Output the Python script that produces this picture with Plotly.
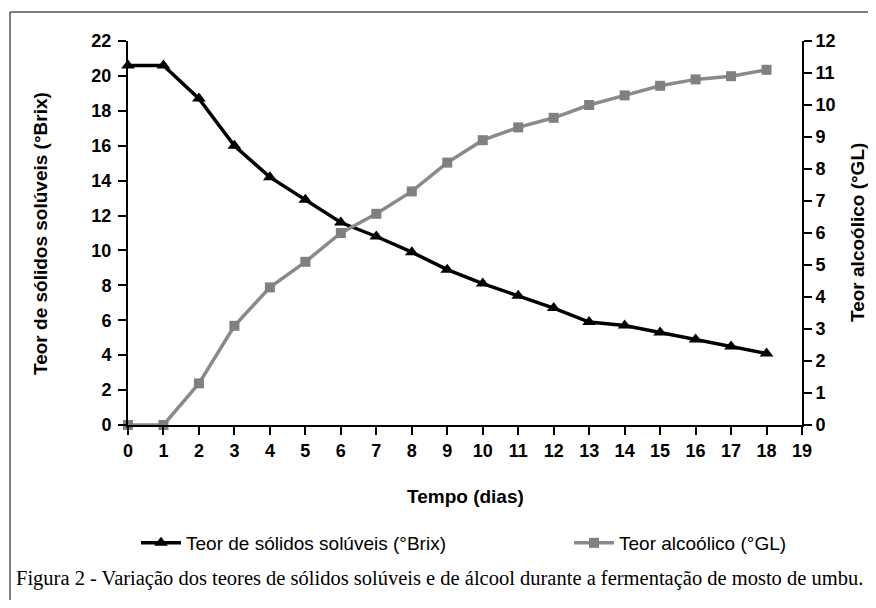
import plotly.graph_objects as go

# Data
dias = list(range(19))
brix = [20.6, 20.6, 18.7, 16.0, 14.2, 12.9, 11.6, 10.8, 9.9, 8.9, 8.1, 7.4, 6.7, 5.9, 5.7, 5.3, 4.9, 4.5, 4.1]
gl = [0.0, 0.0, 1.3, 3.1, 4.3, 5.1, 6.0, 6.6, 7.3, 8.2, 8.9, 9.3, 9.6, 10.0, 10.3, 10.6, 10.8, 10.9, 11.1]
x_ticks = list(range(20))
name_brix = "Teor de sólidos solúveis (°Brix)"
name_gl = "Teor alcoólico (°GL)"
title_x = "Tempo (dias)"
title_y1 = "Teor de sólidos solúveis (°Brix)"
title_y2 = "Teor alcoólico (°GL)"
caption = "Figura 2 - Variação dos teores de sólidos solúveis e de álcool durante a fermentação de mosto de umbu."

# The page places the figure 8px from the window's corner
OFF = 8
W, H = 876 - 2 * OFF, 608 - 2 * OFF
PL, PR, PT, PB = 128, 802, 41, 425  # plot area in window pixels
L, T = PL - OFF, PT - OFF
pw, ph = PR - PL, PB - PT
R, B = W - L - pw, H - T - ph


def px(x):
    return (x - PL) / pw


def py(y):
    return (PB - y) / ph


SANS = "Liberation Sans, Arial, sans-serif"
tickfont = dict(family=SANS, size=18, color="black", weight="bold")
titlefont = dict(family=SANS, size=19, color="black", weight="bold")

fig = go.Figure()
fig.add_trace(go.Scatter(
    x=dias, y=brix, mode="lines+markers", name=name_brix,
    line=dict(color="black", width=3.5),
    marker=dict(symbol="triangle-up", size=12, color="black"),
    cliponaxis=False, legend="legend",
))
fig.add_trace(go.Scatter(
    x=dias, y=gl, mode="lines+markers", name=name_gl, yaxis="y2",
    line=dict(color="#8a8a8a", width=3.5),
    marker=dict(symbol="square", size=10, color="#808080"),
    cliponaxis=False, legend="legend2",
))

axis_common = dict(
    showline=True, linecolor="black", linewidth=2,
    ticks="outside", ticklen=8, tickwidth=1.5, tickcolor="black",
    showgrid=False, zeroline=False, tickfont=tickfont,
)

legfont = dict(family=SANS, size=19, color="black")

fig.update_layout(
    width=W, height=H, autosize=False,
    margin=dict(l=L, r=R, t=T, b=B),
    paper_bgcolor="white", plot_bgcolor="white",
    xaxis=dict(range=[0, 19], tickmode="array", tickvals=x_ticks, **axis_common),
    yaxis=dict(range=[0, 22], dtick=2, ticklabelstandoff=3, **axis_common),
    yaxis2=dict(range=[0, 12], dtick=1, overlaying="y", side="right", **axis_common),
    legend=dict(
        orientation="h", x=px(136), y=py(543), xanchor="left", yanchor="middle",
        font=legfont, itemwidth=40, bgcolor="rgba(0,0,0,0)",
    ),
    legend2=dict(
        orientation="h", x=px(569), y=py(543), xanchor="left", yanchor="middle",
        font=legfont, itemwidth=40, bgcolor="rgba(0,0,0,0)",
    ),
    showlegend=True,
    annotations=[
        dict(text=title_x, xref="paper", yref="paper", x=0.5, y=py(496),
             xanchor="center", yanchor="middle", showarrow=False, font=titlefont),
        dict(text=title_y1, xref="paper", yref="paper", x=px(40), y=0.5,
             xanchor="center", yanchor="middle", showarrow=False, textangle=-90,
             font=titlefont),
        dict(text=title_y2, xref="paper", yref="paper", x=px(857), y=0.5,
             xanchor="center", yanchor="middle", showarrow=False, textangle=-90,
             font=titlefont),
        dict(text=caption, xref="paper", yref="paper", x=px(439), y=py(578),
             xanchor="center", yanchor="middle", showarrow=False,
             font=dict(family="Liberation Serif, Times New Roman, serif", size=20.5, color="black")),
    ],
    shapes=[
        dict(type="line", xref="paper", yref="paper", x0=px(10), y0=py(12), x1=px(868), y1=py(12),
             line=dict(color="#555555", width=1.5)),
        dict(type="line", xref="paper", yref="paper", x0=px(10), y0=py(12), x1=px(10), y1=py(600),
             line=dict(color="#555555", width=1.5)),
    ],
)

fig.write_html("out.html", config={"displayModeBar": False})
